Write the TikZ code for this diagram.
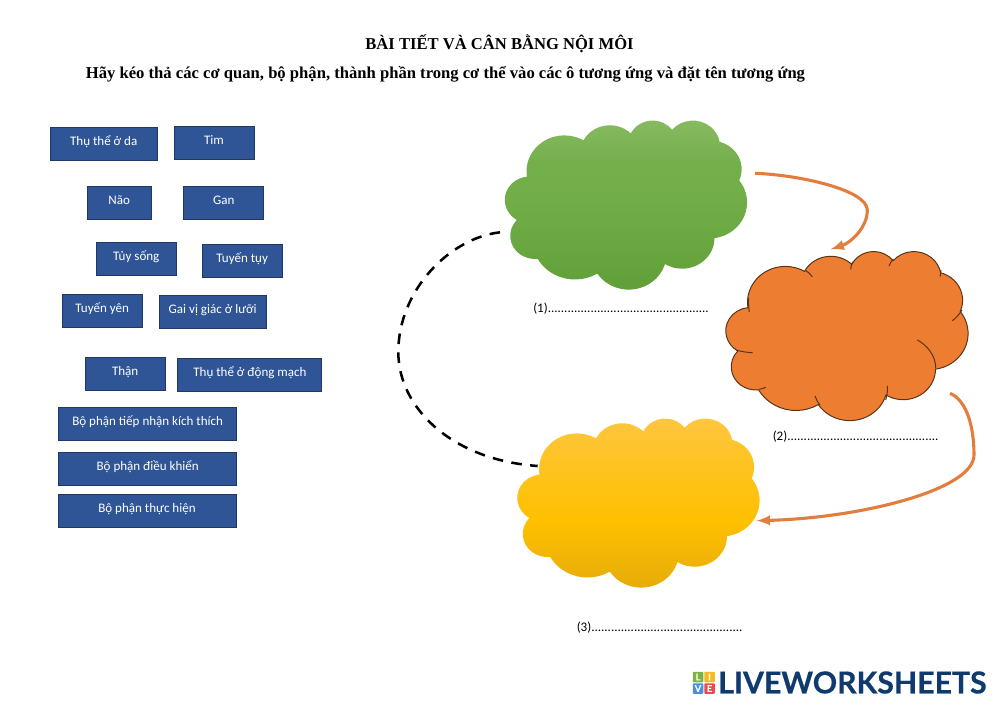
\documentclass[tikz,border=0pt]{standalone}
\usepackage{fontspec}
\setmainfont{Liberation Serif}
\newfontfamily\boxfont{Carlito}
\newfontfamily\logofont[BoldFeatures={FakeBold=0.5}]{Lato}
\usepackage{tikz}
\usetikzlibrary{arrows, calc}
\tikzset{>=latex}
\definecolor{myblue}{RGB}{47, 85, 151}
\definecolor{myblueline}{RGB}{31, 56, 100}
\definecolor{myorange}{RGB}{237, 125, 49}
\definecolor{myarrow}{RGB}{226, 125, 62}
\definecolor{mybrown}{RGB}{88, 52, 24}
\definecolor{mynavy}{RGB}{15, 58, 110}
\definecolor{mylogogreen}{RGB}{124, 179, 66}
\definecolor{mylogoyellow}{RGB}{245, 185, 33}
\definecolor{mylogoblue}{RGB}{74, 143, 224}
\definecolor{mylogored}{RGB}{232, 74, 79}
\pgfdeclareverticalshading{cloudgreen}{100bp}{rgb(0bp)=(0.376,0.62,0.22); rgb(25bp)=(0.376,0.62,0.22); rgb(50bp)=(0.44,0.68,0.28); rgb(62bp)=(0.455,0.686,0.298); rgb(75bp)=(0.533,0.733,0.384); rgb(100bp)=(0.533,0.733,0.384)}
\pgfdeclareverticalshading{cloudyellow}{100bp}{rgb(0bp)=(0.894,0.675,0.031); rgb(25bp)=(0.894,0.675,0.031); rgb(35bp)=(0.949,0.71,0.024); rgb(45bp)=(1,0.753,0); rgb(60bp)=(0.996,0.765,0.118); rgb(75bp)=(1,0.776,0.259); rgb(100bp)=(1,0.776,0.259)}
\tikzset{
  wordbox/.style={draw=myblueline, fill=myblue, text=white, line width=0.6pt, inner xsep=0pt, inner ysep=0pt,
    font=\boxfont\fontsize{9.27}{10}\selectfont, minimum width=#1*0.025cm, text height=12.9pt, text depth=10.6pt},
  answerline/.style={anchor=west, inner sep=0pt, font=\boxfont\fontsize{9.27}{10}\selectfont},
  flowarrow/.style={->, >=latex, myarrow, line width=2.2pt},
  logosquare/.style={rounded corners=0.7pt, inner sep=0pt, minimum size=10.5*0.025cm, text=white,
    font=\logofont\bfseries\fontsize{6.5}{7}\selectfont},
}
% the outline of the cloud, on a square of side 43.2
\newcommand{\cloudpath}{(3.9, 14.37) arc[start angle=-187.74, end angle=-59.62, x radius=6.753, y radius=9.19]
  arc[start angle=-151.99, end angle=-45.5, x radius=5.333, y radius=7.267]
  arc[start angle=-153.49, end angle=-37.32, x radius=4.365, y radius=5.945]
  arc[start angle=-139.71, end angle=-10.21, x radius=4.857, y radius=6.595]
  arc[start angle=-74.76, end angle=23.21, x radius=5.333, y radius=7.273]
  arc[start angle=-37.53, end angle=81.86, x radius=6.775, y radius=9.22]
  arc[start angle=0.46, end angle=121.98, x radius=5.785, y radius=7.867]
  arc[start angle=16.85, end angle=146.24, x radius=6.752, y radius=9.215]
  arc[start angle=58.98, end angle=150.19, x radius=7.72, y radius=10.543]
  arc[start angle=83.31, end angle=223.09, x radius=4.36, y radius=5.918]
  arc[start angle=120.35, end angle=264.11, x radius=4.345, y radius=5.945] -- cycle}
\begin{document}
\begin{tikzpicture}[x=0.025cm, y=-0.025cm]
\useasboundingbox (0, 0) rectangle (999, 707);
\node[font=\bfseries\fontsize{11.8}{13}\selectfont] (title) at (499.5, 44) {BÀI TIẾT VÀ CÂN BẰNG NỘI MÔI};
\node[font=\bfseries\fontsize{11.82}{13}\selectfont] (task) at (445.5, 74.5) {Hãy kéo thả các cơ quan, bộ phận, thành phần trong cơ thể vào các ô tương ứng và đặt tên tương ứng};

\node[wordbox=107] (da) at (103.7, 144.3) {Thụ thể ở da};
\node[wordbox=80] (tim) at (214, 143.3) {Tim};
\node[wordbox=64] (nao) at (119.2, 202.5) {Não};
\node[wordbox=80] (gan) at (223.7, 202.5) {Gan};
\node[wordbox=80] (tuysong) at (136.3, 259.2) {Tủy sống};
\node[wordbox=80] (tuyentuy) at (242.2, 261.2) {Tuyến tụy};
\node[wordbox=80] (tuyenyen) at (102.2, 310.8) {Tuyến yên};
\node[wordbox=107] (gaivi) at (212.7, 311.7) {Gai vị giác ở lưỡi};
\node[wordbox=80] (than) at (125.2, 374) {Thận};
\node[wordbox=144] (dongmach) at (249.9, 374.5) {Thụ thể ở động mạch};
\node[wordbox=178] (tiepnhan) at (147.7, 424) {Bộ phận tiếp nhận kích thích};
\node[wordbox=178] (dieukhien) at (147.7, 469.2) {Bộ phận điều khiển};
\node[wordbox=178] (thuchien) at (147, 511.3) {Bộ phận thực hiện};

% the three clouds
\begin{scope}[shift={(505, 120)}, xscale=242/43.2, yscale=169/43.2]
\shade[shading=cloudgreen] \cloudpath;
\end{scope}
\begin{scope}[shift={(726, 251)}, xscale=242/43.2, yscale=169/43.2]
\draw[draw=mybrown, fill=myorange, line width=0.7pt] \cloudpath;
\end{scope}
\begin{scope}[shift={(517.5, 418)}, xscale=242/43.2, yscale=169/43.2]
\shade[shading=cloudyellow] \cloudpath;
\end{scope}

% the folds inside the orange cloud
\draw[mybrown, line width=0.7pt] (748.3, 298) .. controls (748.2, 303) and (748.6, 307) .. (749.3, 312);
\draw[mybrown, line width=0.7pt] (736, 350) .. controls (741, 351.5) and (747, 352.5) .. (752.7, 352.7);
\draw[mybrown, line width=0.7pt] (765.7, 387.3) .. controls (763.5, 388.3) and (761.5, 389) .. (759.3, 389.3);
\draw[mybrown, line width=0.7pt] (815, 396) .. controls (816, 399.5) and (818, 402.5) .. (820, 405);
\draw[mybrown, line width=0.7pt] (887.3, 386) .. controls (887.8, 391) and (887, 396) .. (885.7, 400);
\draw[mybrown, line width=0.7pt] (917.3, 340) .. controls (927, 345) and (936, 356) .. (935.7, 368.3);
\draw[mybrown, line width=0.7pt] (952.3, 320.7) .. controls (956, 318) and (959.5, 314) .. (962, 310);
\draw[mybrown, line width=0.7pt] (940, 276.7) .. controls (940.6, 274.5) and (941, 272.2) .. (941, 270);
\draw[mybrown, line width=0.7pt] (889, 266) .. controls (890, 263.5) and (891.5, 261) .. (893.3, 259);
\draw[mybrown, line width=0.7pt] (850.7, 269.3) .. controls (850.8, 266.5) and (851.5, 264) .. (852.7, 261.7);
\draw[mybrown, line width=0.7pt] (812.3, 276.7) .. controls (810.3, 274) and (807.8, 271.8) .. (805, 270);

\coordinate (greenout) at (755, 173.3);
\coordinate (orangein) at (830.7, 249.3);
\coordinate (orangeout) at (950, 393.3);
\coordinate (yellowin) at (756.7, 520.7);
\coordinate (greenleft) at (500, 232.3);
\coordinate (yellowleft) at (537.7, 466);
\coordinate (farleft) at (398.3, 352);
\draw[flowarrow] (greenout) .. controls (800, 175) and (867, 190) .. (867.3, 210) .. controls (867.5, 228) and (850, 243) .. (orangein);
\draw[flowarrow] (orangeout) .. controls (966, 400) and (974, 425) .. (974, 455) .. controls (974, 490) and (860, 518) .. (yellowin);
\draw[black, line width=1.8pt, dash pattern=on 7.5pt off 6pt] (greenleft) .. controls (450, 238) and (398.3, 290) .. (farleft) .. controls (398.3, 408) and (452, 460) .. (yellowleft);

\node[answerline] (answerone) at (533, 308.5) {(1).................................................};
\node[answerline] (answertwo) at (772.5, 436.5) {(2)..............................................};
\node[answerline] (answerthree) at (576.5, 627.5) {(3)..............................................};

% the mark at the bottom
\node[logosquare, fill=mylogogreen] (logol) at (698, 677) {L};
\node[logosquare, fill=mylogoyellow] (logoi) at (709.5, 677) {I};
\node[logosquare, fill=mylogoblue] (logov) at (698, 688.5) {V};
\node[logosquare, fill=mylogored] (logoe) at (709.5, 688.5) {E};
\node[anchor=west, inner sep=0pt, text=mynavy, font=\logofont\bfseries\fontsize{21.5}{25}\selectfont] (logotext) at (718, 682.5) {LIVEWORKSHEETS};
\end{tikzpicture}
\end{document}
